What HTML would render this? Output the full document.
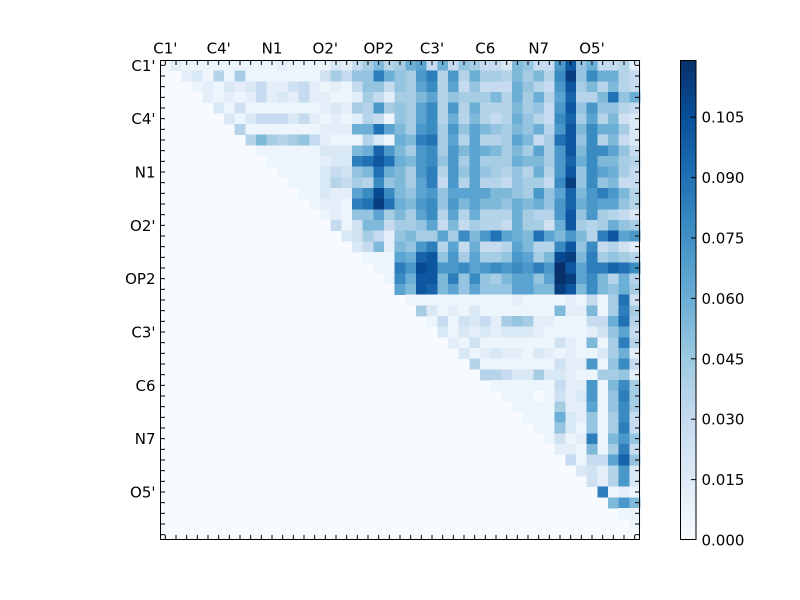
<!DOCTYPE html>
<html>
<head>
<meta charset="utf-8">
<style>
  html,body{margin:0;padding:0;background:#ffffff;}
  svg{display:block;}
  text{font-family:"DejaVu Sans","Liberation Sans",sans-serif;font-size:15px;fill:#000;}
</style>
</head>
<body>
<svg id="chart" width="800" height="600" viewBox="0 0 800 600" xmlns="http://www.w3.org/2000/svg">
  <defs>
    <linearGradient id="blues" x1="0" y1="1" x2="0" y2="0">
      <stop offset="0" stop-color="#f7fbff"/>
      <stop offset="0.125" stop-color="#deebf7"/>
      <stop offset="0.25" stop-color="#c6dbef"/>
      <stop offset="0.375" stop-color="#9ecae1"/>
      <stop offset="0.5" stop-color="#6baed6"/>
      <stop offset="0.625" stop-color="#4292c6"/>
      <stop offset="0.75" stop-color="#2171b5"/>
      <stop offset="0.875" stop-color="#08519c"/>
      <stop offset="1" stop-color="#08306b"/>
    </linearGradient>
  </defs>
  <rect x="0" y="0" width="800" height="600" fill="#ffffff"/>
  <rect x="160" y="60" width="480" height="480" fill="#f7fbff"/>
  <g id="cells" shape-rendering="crispEdges"></g>
  <g id="ticks" stroke="#000" stroke-width="1"></g>
  <rect x="160.5" y="60.5" width="479" height="479" fill="none" stroke="#000" stroke-width="1"/>

  <!-- top labels -->
  <g text-anchor="middle">
    <text x="165.3" y="53.5">C1'</text>
    <text x="218.7" y="53.5">C4'</text>
    <text x="272" y="53.5">N1</text>
    <text x="325.3" y="53.5">O2'</text>
    <text x="378.7" y="53.5">OP2</text>
    <text x="432" y="53.5">C3'</text>
    <text x="485.3" y="53.5">C6</text>
    <text x="538.7" y="53.5">N7</text>
    <text x="592" y="53.5">O5'</text>
  </g>
  <!-- left labels -->
  <g text-anchor="end">
    <text x="155.5" y="70.8">C1'</text>
    <text x="155.5" y="124.2">C4'</text>
    <text x="155.5" y="177.5">N1</text>
    <text x="155.5" y="230.8">O2'</text>
    <text x="155.5" y="284.2">OP2</text>
    <text x="155.5" y="337.5">C3'</text>
    <text x="155.5" y="390.8">C6</text>
    <text x="155.5" y="444.2">N7</text>
    <text x="155.5" y="497.5">O5'</text>
  </g>

  <!-- colorbar -->
  <rect x="680" y="60" width="16" height="480" fill="url(#blues)"/>
  <rect x="680.5" y="60.5" width="15.5" height="479" fill="none" stroke="#000" stroke-width="1"/>
  <g stroke="#000" stroke-width="1">
    <line x1="691" y1="539.5" x2="696" y2="539.5"/>
    <line x1="691" y1="479.6" x2="696" y2="479.6"/>
    <line x1="691" y1="419.2" x2="696" y2="419.2"/>
    <line x1="691" y1="358.8" x2="696" y2="358.8"/>
    <line x1="691" y1="298.4" x2="696" y2="298.4"/>
    <line x1="691" y1="238" x2="696" y2="238"/>
    <line x1="691" y1="177.6" x2="696" y2="177.6"/>
    <line x1="691" y1="117.2" x2="696" y2="117.2"/>
  </g>
  <g text-anchor="start">
    <text x="701.5" y="545.5">0.000</text>
    <text x="701.5" y="485.1">0.015</text>
    <text x="701.5" y="424.7">0.030</text>
    <text x="701.5" y="364.3">0.045</text>
    <text x="701.5" y="303.9">0.060</text>
    <text x="701.5" y="243.5">0.075</text>
    <text x="701.5" y="183.1">0.090</text>
    <text x="701.5" y="122.7">0.105</text>
  </g>
</svg>
<script>
(function(){
  var Z="000000000000000";
  var rows=[
    ["021111111112111","13257967ab5a587","5539855ch8a5562"],
    ["002316171111111","47588ea87ce6c6a","7769796dj8daa65"],
    ["000121323522452","121588587bd6b58","555a865ch796965"],
    ["000021212523252","2112752779b6877","796a7a6bg669f8a"],
    ["000003141111111","23276c787bd6c6a","6669785ch8c8865"],
    ["000000313555352","121265187bd6a69","656a865dg7b6943"],
    ["000000061111111","222aafb97cd7c8b","98798a6ch9daa73"],
    ["000000006976785","2111631a9ef7b6b","667b957fh8d6953"],
    ["000000000111111","3339agc97cd7c9b","a9797b7ch9ddb85"],
    ["000000000011111","233efhfa9cd8c7b","777a997cgad9976"],
    ["000000000001111","35489fa97ce6c8b","87686a6ch8dba75"],
    ["000000000000111","36576d897be5c6b","6658775dj8d8955"],
    ["000000000000011","322bdid98bc8bbb","b9987c8bg9cec96"],
    ["000000000000001","221efjfa9cd8c9b","998a9a8cgacbb86"],
    [Z,"12188b797bd6b6a","666a766ch8c7653"],
    [Z,"0514995778b5957","665a774ah767a87"],
    [Z,"00347528977b7d9","cfba9fb9c96ehbc"],
    [Z,"000359298ce6b5a","556b966dh8d5642"],
    [Z,"0000111bagh8c7b","778cb79ij9e7876"],
    [Z,"0000011ecihccdb","cdcdceckhbeegfd"],
    [Z,"0000001dahh9e8d","879bb8bkjbd96a6"],
    [Z,"0000000b9hg9b8b","888bb99jh9d98a7"],
    [Z,"000000001111111","1112111121517f4"],
    [Z,"000000000731213","1111111922917e7"],
    [Z,"000000000015143","527872211155af6"],
    [Z,"000000000003132","3233321111248b5"],
    [Z,"000000000000214","1111111421917e6"],
    [Z,"000000000000031","2322132121137a2"],
    [Z,"000000000000006","1111111422c18d5"],
    [Z,Z,"665337332117782"],
    [Z,Z,"0111111522c19d7"],
    [Z,Z,"0011101423c18e7"],
    [Z,Z,"0001111722b18d7"],
    [Z,Z,"0000111a32817d5"],
    [Z,Z,"0000011831817e5"],
    [Z,Z,"0000001412e19c8"],
    [Z,Z,"0000000221917e5"],
    [Z,Z,"000000005155bg8"],
    [Z,Z,"0000000003426c3"],
    [Z,Z,"0000000000426c3"],
    [Z,Z,"00000000000e121"],
    [Z,Z,"0000000000009c9"],
    [Z,Z,"000000000000011"],
    [Z,Z,"000000000000001"],
    [Z,Z,Z]
  ];
  var A=[[247,251,255],[222,235,247],[198,219,239],[158,202,225],[107,174,214],[66,146,198],[33,113,181],[8,81,156],[8,48,107]];
  function col(v){
    if(v<0)v=0; if(v>1)v=1;
    var t=v*8, i=Math.floor(t); if(i>7)i=7; var f=t-i;
    var a=A[i], b=A[i+1];
    return "rgb("+Math.round(a[0]+(b[0]-a[0])*f)+","+Math.round(a[1]+(b[1]-a[1])*f)+","+Math.round(a[2]+(b[2]-a[2])*f)+")";
  }
  function val(ch){
    var code=ch.charCodeAt(0);
    if(code>=48&&code<=57) return (code-48)*0.05;
    return (10+code-97)*0.05;
  }
  var NS="http://www.w3.org/2000/svg";
  var g=document.getElementById("cells");
  var cw=480/45;
  for(var r=0;r<45;r++){
    var s=(rows[r].join("")+Z+Z+Z).substr(0,45);
    for(var c=0;c<45;c++){
      var ch=s.charAt(c);
      if(ch==="0") continue;
      var rect=document.createElementNS(NS,"rect");
      rect.setAttribute("x",(160+c*cw).toFixed(2));
      rect.setAttribute("y",(60+r*cw).toFixed(2));
      rect.setAttribute("width",(cw+0.4).toFixed(2));
      rect.setAttribute("height",(cw+0.4).toFixed(2));
      rect.setAttribute("fill",col(val(ch)));
      g.appendChild(rect);
    }
  }
  var tg=document.getElementById("ticks");
  function line(x1,y1,x2,y2){
    var l=document.createElementNS(NS,"line");
    l.setAttribute("x1",x1);l.setAttribute("y1",y1);
    l.setAttribute("x2",x2);l.setAttribute("y2",y2);
    tg.appendChild(l);
  }
  for(var k=0;k<45;k++){
    var p=(160+k*cw+cw/2).toFixed(2);
    var q=(60+k*cw+cw/2).toFixed(2);
    line(p,540,p,535);
    line(p,60,p,65);
    line(160,q,165,q);
    line(640,q,635,q);
  }
})();
</script>
</body>
</html>
